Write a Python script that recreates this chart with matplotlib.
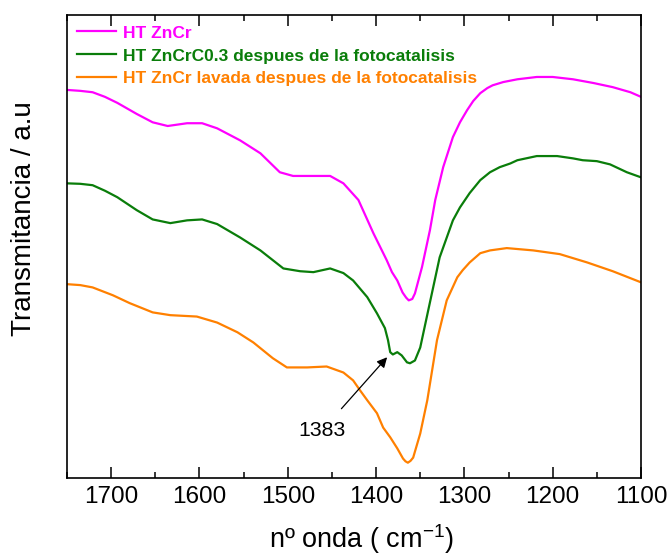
import matplotlib
matplotlib.use("Agg")
import matplotlib.pyplot as plt
from matplotlib.ticker import MultipleLocator

plt.rcParams['font.family'] = ['Liberation Sans', 'DejaVu Sans']

# ---- data (wavenumber cm^-1, transmittance a.u.) ----
wn_zncr = [1750, 1735, 1721, 1707, 1693, 1671, 1653, 1636, 1614, 1597, 1580, 1554, 1531, 1509,
           1494, 1471, 1452, 1437, 1420, 1403, 1388, 1382, 1376, 1370, 1366, 1363, 1359, 1356,
           1348, 1339, 1333, 1324, 1313, 1305, 1297, 1290, 1282, 1274, 1268, 1256, 1240, 1218,
           1200, 1177, 1154, 1132, 1112, 1100]
t_zncr = [83.8, 83.6, 83.3, 82.3, 81.0, 78.6, 76.8, 76.0, 76.6, 76.6, 75.5, 72.9, 70.1, 66.0,
          65.2, 65.2, 65.2, 63.6, 60.0, 52.8, 47.0, 44.4, 42.6, 40.0, 38.9, 38.3, 38.6, 39.8,
          45.5, 53.5, 60.0, 67.1, 73.6, 76.8, 79.4, 81.4, 83.1, 84.2, 84.8, 85.5, 86.1, 86.6,
          86.6, 86.1, 85.3, 84.4, 83.3, 82.3]

wn_c03 = [1750, 1735, 1721, 1707, 1693, 1671, 1653, 1633, 1614, 1597, 1580, 1554, 1531, 1505,
          1486, 1471, 1452, 1437, 1426, 1410, 1399, 1390, 1386.5, 1384, 1381, 1376,
          1371, 1365, 1361.6, 1356, 1350, 1341, 1328, 1313, 1305, 1294, 1282, 1271, 1260, 1248,
          1240, 1218, 1195, 1177, 1166, 1150, 1135, 1116, 1100]
t_c03 = [63.6, 63.5, 63.2, 62.0, 60.6, 57.8, 55.8, 55.0, 55.6, 55.8, 54.8, 51.9, 49.1, 45.2,
         44.6, 44.4, 45.2, 44.2, 42.6, 39.0, 35.5, 32.3, 29.7, 27.1, 26.6, 27.1,
         26.4, 24.9, 24.7, 25.3, 28.1, 36.1, 47.6, 55.6, 58.4, 61.5, 64.3, 66.0, 67.1, 67.9,
         68.6, 69.5, 69.5, 69.0, 68.6, 68.4, 67.7, 66.0, 64.9]

wn_lav = [1750, 1735, 1721, 1698, 1679, 1653, 1633, 1603, 1580, 1557, 1539, 1517, 1501,
          1478, 1456, 1437, 1426, 1418, 1410, 1399, 1392, 1384, 1376, 1369.5, 1366.7, 1364,
          1361, 1358, 1350, 1342, 1331, 1320, 1308, 1302, 1294, 1282, 1271, 1252, 1222, 1192,
          1161, 1132, 1100]
t_lav = [41.8, 41.6, 41.1, 39.4, 37.7, 35.7, 35.1, 34.8, 33.5, 31.4, 29.2, 25.8, 23.8,
         23.8, 24.0, 22.7, 21.0, 18.8, 16.7, 13.9, 10.8, 8.7, 6.3, 4.1, 3.5, 3.2,
         3.6, 4.3, 9.5, 16.7, 29.7, 38.3, 43.3, 44.8, 46.5, 48.5, 49.1, 49.6, 49.1, 48.3,
         46.5, 44.6, 42.2]

labels = ["HT ZnCr",
          "HT ZnCrC0.3 despues de la fotocatalisis",
          "HT ZnCr lavada despues de la fotocatalisis"]
colors = ["#FF00FF", "#0A7D0A", "#FF8000"]

peak_label = "1383"
peak_xy = (1387.5, 26.0)
peak_text_xy = (1461, 10.2)

xticks = [1700, 1600, 1500, 1400, 1300, 1200, 1100]

# ---- figure ----
fig = plt.figure(figsize=(6.69, 5.57), dpi=100)
ax = fig.add_axes([67/669, 1-477.5/557, (641-67)/669, (477.5-15)/557])

for wn, t, lab, c in zip([wn_zncr, wn_c03, wn_lav], [t_zncr, t_c03, t_lav], labels, colors):
    ax.plot(wn, t, color=c, lw=1.6, label=lab, solid_joinstyle='round')

ax.set_xlim(1750, 1100)
ax.set_ylim(0, 100)
ax.set_xticks(xticks)
ax.xaxis.set_minor_locator(MultipleLocator(50))
ax.set_yticks([])
ax.tick_params(axis='x', which='major', direction='in', length=8, width=1.1,
               top=True, labelsize=17.5, pad=6)
ax.tick_params(axis='x', which='minor', direction='in', length=4, width=1.1, top=True)
for s in ax.spines.values():
    s.set_linewidth(1.2)

fig.text(362/669, 1-548/557, "nº onda ( cm$^{\\mathregular{-1}}$)", fontsize=19.5,
         ha='center', va='baseline')
fig.text(24/669, 1-219/557, "Transmitancia / a.u", rotation=90, fontsize=20,
         ha='center', va='center')

ax.annotate(peak_label, xy=peak_xy, xytext=peak_text_xy, fontsize=15.3,
            ha='center', va='center',
            arrowprops=dict(arrowstyle='-|>', color='black', lw=0.9,
                            mutation_scale=15, shrinkA=9, shrinkB=0))

leg = ax.legend(loc='upper left', frameon=False, handlelength=2.2, handletextpad=0.45,
                labelspacing=0.45, borderaxespad=0.2, labelcolor='linecolor',
                prop={'weight': 'bold', 'size': 12.5})

fig.savefig("out.png", dpi=100)
